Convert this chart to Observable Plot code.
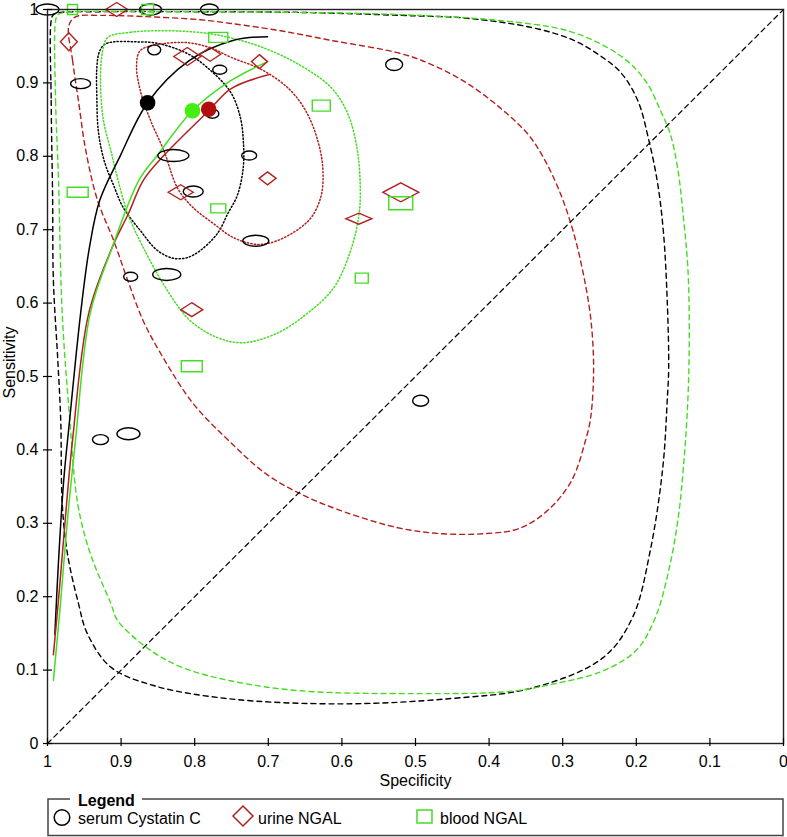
<!DOCTYPE html>
<html><head><meta charset="utf-8">
<script src="https://cdn.jsdelivr.net/npm/d3@7"></script>
<script src="https://cdn.jsdelivr.net/npm/@observablehq/plot@0.6"></script>
<style>
body{margin:0;background:#fff;font-family:"Liberation Sans",Arial,sans-serif}
#wrap{width:787px}
svg{display:block}
</style>
</head><body><div id="wrap"></div>
<script>
// ---------- tick values ----------
const xTicks = [1, 0.9, 0.8, 0.7, 0.6, 0.5, 0.4, 0.3, 0.2, 0.1, 0];
const yTicks = [0, 0.1, 0.2, 0.3, 0.4, 0.5, 0.6, 0.7, 0.8, 0.9, 1];

// ---------- serum Cystatin C studies ----------
const cysSpec = [1.000, 0.860, 0.780, 0.955, 0.855, 0.766, 0.776, 0.829, 0.726, 0.802, 0.717, 0.887, 0.838, 0.529, 0.493, 0.928, 0.890];
const cysSens = [1.000, 1.000, 1.000, 0.899, 0.945, 0.918, 0.858, 0.801, 0.801, 0.752, 0.685, 0.636, 0.639, 0.925, 0.467, 0.414, 0.422];
const cysWeightNeg = [23, 22, 18, 20, 13, 14, 13, 31, 15, 20, 26, 14, 28, 17, 16, 16, 23];
const cysWeightPos = [11, 11, 11, 10, 10, 9, 9, 12, 9, 11, 11, 9, 12, 12, 11, 10, 12];

// ---------- urine NGAL studies ----------
const uriSpec = [0.906, 0.971, 0.810, 0.779, 0.712, 0.819, 0.701, 0.804, 0.520, 0.577];
const uriSens = [1.000, 0.956, 0.936, 0.939, 0.929, 0.751, 0.770, 0.591, 0.751, 0.715];
const uriWeightNeg = [22, 17, 27, 21, 16, 25, 17, 22, 36, 26];
const uriWeightPos = [14, 18, 18, 14, 14, 15, 13, 14, 19, 11];

// ---------- blood NGAL studies ----------
const bldSpec = [0.966, 0.864, 0.768, 0.959, 0.628, 0.768, 0.520, 0.573, 0.804];
const bldSens = [1.000, 1.000, 0.962, 0.751, 0.869, 0.729, 0.736, 0.634, 0.514];
const bldWeightNeg = [10, 12, 19, 21, 18, 15, 24, 13, 21];
const bldWeightPos = [10, 10, 10, 10, 11, 9, 13, 10, 11];

// ---------- summary points (Cystatin C, urine NGAL, blood NGAL) ----------
const summarySpec = [0.864, 0.781, 0.803];
const summarySens = [0.873, 0.864, 0.862];

// ---------- SROC curves [spec, sens] ----------
const cysCurve = [[0.990,0.149],[0.985,0.249],[0.978,0.358],[0.970,0.440],[0.955,0.586],[0.943,0.676],[0.929,0.740],[0.901,0.801],[0.864,0.873],[0.808,0.930],[0.747,0.958],[0.701,0.963]];
const uriCurve = [[0.992,0.121],[0.984,0.208],[0.976,0.304],[0.966,0.413],[0.944,0.586],[0.912,0.676],[0.890,0.722],[0.870,0.767],[0.842,0.801],[0.781,0.862],[0.751,0.892],[0.700,0.911]];
const bldCurve = [[0.992,0.086],[0.982,0.195],[0.973,0.304],[0.962,0.413],[0.942,0.586],[0.912,0.676],[0.876,0.767],[0.851,0.801],[0.803,0.862],[0.751,0.903],[0.701,0.929]];

// ---------- 95% confidence regions (dotted) ----------
const cysConf = [[0.923,0.952],[0.910,0.956],[0.883,0.956],[0.851,0.954],[0.810,0.940],[0.783,0.921],[0.751,0.887],[0.738,0.853],[0.734,0.822],[0.734,0.785],[0.742,0.747],[0.755,0.722],[0.769,0.695],[0.792,0.672],[0.810,0.662],[0.829,0.661],[0.851,0.672],[0.874,0.699],[0.897,0.730],[0.910,0.760],[0.923,0.794],[0.931,0.835],[0.933,0.883],[0.933,0.920],[0.930,0.941]];
const uriConf = [[0.874,0.944],[0.851,0.952],[0.813,0.955],[0.779,0.948],[0.751,0.935],[0.707,0.917],[0.670,0.890],[0.647,0.858],[0.633,0.822],[0.626,0.785],[0.628,0.747],[0.640,0.719],[0.656,0.703],[0.688,0.685],[0.715,0.680],[0.747,0.689],[0.774,0.708],[0.802,0.730],[0.823,0.756],[0.842,0.808],[0.860,0.849],[0.874,0.890],[0.879,0.924]];
const bldConf = [[0.918,0.962],[0.887,0.969],[0.833,0.971],[0.779,0.967],[0.738,0.958],[0.707,0.948],[0.660,0.926],[0.615,0.894],[0.592,0.858],[0.579,0.808],[0.575,0.753],[0.577,0.719],[0.588,0.672],[0.611,0.621],[0.647,0.586],[0.688,0.559],[0.734,0.546],[0.769,0.553],[0.806,0.576],[0.837,0.617],[0.870,0.676],[0.891,0.722],[0.904,0.767],[0.914,0.808],[0.924,0.849],[0.928,0.903],[0.925,0.944]];

// ---------- 95% prediction regions (dashed) ----------
const cysPred = [[0.995,0.985],[0.995,0.876],[0.993,0.740],[0.992,0.631],[0.986,0.522],[0.982,0.440],[0.980,0.327],[0.973,0.259],[0.958,0.191],[0.946,0.150],[0.914,0.104],[0.856,0.079],[0.754,0.061],[0.602,0.054],[0.455,0.061],[0.340,0.076],[0.245,0.117],[0.205,0.172],[0.181,0.263],[0.164,0.376],[0.158,0.467],[0.156,0.512],[0.158,0.604],[0.163,0.695],[0.171,0.763],[0.183,0.822],[0.198,0.876],[0.221,0.914],[0.249,0.937],[0.285,0.958],[0.340,0.975],[0.429,0.988],[0.520,0.992],[0.656,0.996],[0.792,0.997],[0.928,0.997],[0.982,0.996],[0.992,0.993]];
const uriPred = [[0.971,0.978],[0.966,0.931],[0.958,0.876],[0.948,0.808],[0.932,0.740],[0.910,0.685],[0.891,0.631],[0.870,0.576],[0.846,0.531],[0.802,0.463],[0.754,0.413],[0.704,0.368],[0.652,0.338],[0.595,0.315],[0.524,0.294],[0.467,0.286],[0.404,0.286],[0.359,0.293],[0.321,0.317],[0.288,0.358],[0.269,0.413],[0.262,0.444],[0.258,0.512],[0.262,0.580],[0.272,0.640],[0.285,0.695],[0.303,0.749],[0.326,0.798],[0.348,0.831],[0.385,0.866],[0.429,0.899],[0.476,0.924],[0.520,0.940],[0.615,0.958],[0.683,0.971],[0.751,0.981],[0.792,0.986],[0.860,0.990],[0.928,0.992],[0.962,0.990]];
const bldPred = [[0.989,0.985],[0.989,0.876],[0.985,0.767],[0.980,0.586],[0.970,0.445],[0.959,0.327],[0.942,0.259],[0.914,0.191],[0.905,0.168],[0.863,0.129],[0.818,0.104],[0.754,0.086],[0.659,0.072],[0.499,0.068],[0.372,0.071],[0.308,0.082],[0.245,0.099],[0.200,0.127],[0.174,0.172],[0.155,0.240],[0.143,0.308],[0.136,0.376],[0.130,0.467],[0.128,0.559],[0.130,0.649],[0.136,0.717],[0.144,0.785],[0.154,0.831],[0.167,0.862],[0.185,0.899],[0.208,0.926],[0.239,0.948],[0.293,0.971],[0.385,0.985],[0.520,0.993],[0.656,0.996],[0.860,0.997],[0.976,0.996],[0.986,0.993]];

// ---------- chance line ----------
const diagSpec = [1, 0];
const diagSens = [0, 1];

// ---------- colours ----------
const BLACK = "#000000", RED = "#b3201f", GREEN = "#44dd22";
const RED_FILL = "#b30d0d", GREEN_FILL = "#44ee11";

// ---------- custom symbols (sized by study weights) ----------
function ellipseSym(rx, ry) {
  const k = 0.5523;
  return {draw(c) {
    c.moveTo(rx, 0);
    c.bezierCurveTo(rx, k*ry, k*rx, ry, 0, ry);
    c.bezierCurveTo(-k*rx, ry, -rx, k*ry, -rx, 0);
    c.bezierCurveTo(-rx, -k*ry, -k*rx, -ry, 0, -ry);
    c.bezierCurveTo(k*rx, -ry, rx, -k*ry, rx, 0);
    c.closePath();
  }};
}
function diamondSym(rx, ry) {
  return {draw(c) { c.moveTo(0, -ry); c.lineTo(rx, 0); c.lineTo(0, ry); c.lineTo(-rx, 0); c.closePath(); }};
}
function rectSym(rx, ry) {
  return {draw(c) { c.moveTo(-rx, -ry); c.lineTo(rx, -ry); c.lineTo(rx, ry); c.lineTo(-rx, ry); c.closePath(); }};
}

const toRows = (spec, sens, wn, wp) => spec.map((s, i) => ({spec: s, sens: sens[i], wn: wn[i], wp: wp[i]}));
const cysRows = toRows(cysSpec, cysSens, cysWeightNeg, cysWeightPos);
const uriRows = toRows(uriSpec, uriSens, uriWeightNeg, uriWeightPos);
const bldRows = toRows(bldSpec, bldSens, bldWeightNeg, bldWeightPos);
const summaryRows = summarySpec.map((s, i) => ({spec: s, sens: summarySens[i], k: i}));
const summaryFill = [BLACK, RED_FILL, GREEN_FILL];

const fmt = d3.format("~g");
const DASH = "5,4", DOT = "1.3,2.2";
const P = d => d[0], Q = d => d[1];

const W = 787, H = 792, mL = 47, mR = 4, mT = 9, mB = 49;

const chart = Plot.plot({
  width: W, height: H,
  marginLeft: mL, marginRight: mR, marginTop: mT, marginBottom: mB,
  x: {domain: [1, 0]},
  y: {domain: [0, 1]},
  style: {fontFamily: "'Liberation Sans', Arial, sans-serif", fontSize: "16px", color: "#000", background: "#fff"},
  marks: [
    // prediction regions
    Plot.line(cysPred, {x: P, y: Q, curve: "catmull-rom-closed", stroke: BLACK, strokeWidth: 1.4, strokeDasharray: DASH}),
    Plot.line(bldPred, {x: P, y: Q, curve: "catmull-rom-closed", stroke: GREEN, strokeWidth: 1.4, strokeDasharray: DASH}),
    Plot.line(uriPred, {x: P, y: Q, curve: "catmull-rom-closed", stroke: RED, strokeWidth: 1.4, strokeDasharray: DASH}),
    // confidence regions
    Plot.line(cysConf, {x: P, y: Q, curve: "catmull-rom-closed", stroke: BLACK, strokeWidth: 1.5, strokeDasharray: DOT}),
    Plot.line(uriConf, {x: P, y: Q, curve: "catmull-rom-closed", stroke: RED, strokeWidth: 1.5, strokeDasharray: DOT}),
    Plot.line(bldConf, {x: P, y: Q, curve: "catmull-rom-closed", stroke: GREEN, strokeWidth: 1.5, strokeDasharray: DOT}),
    // chance diagonal
    Plot.line(diagSpec, {x: diagSpec, y: diagSens, stroke: BLACK, strokeWidth: 1.2, strokeDasharray: DASH}),
    // SROC curves
    Plot.line(cysCurve, {x: P, y: Q, curve: "catmull-rom", stroke: BLACK, strokeWidth: 1.5}),
    Plot.line(uriCurve, {x: P, y: Q, curve: "catmull-rom", stroke: RED, strokeWidth: 1.5}),
    Plot.line(bldCurve, {x: P, y: Q, curve: "catmull-rom", stroke: GREEN, strokeWidth: 1.5}),
    // study estimates
    Plot.dot(cysRows, {x: "spec", y: "sens", symbol: d => ellipseSym(d.wn / 2, d.wp / 2), stroke: BLACK, fill: "none", strokeWidth: 1.4}),
    Plot.dot(uriRows, {x: "spec", y: "sens", symbol: d => diamondSym(d.wn / 2, d.wp / 2), stroke: RED, fill: "none", strokeWidth: 1.4}),
    Plot.dot(bldRows, {x: "spec", y: "sens", symbol: d => rectSym(d.wn / 2, d.wp / 2), stroke: GREEN, fill: "none", strokeWidth: 1.4}),
    // summary points
    Plot.dot(summaryRows, {x: "spec", y: "sens", r: 7.8, fill: d => summaryFill[d.k], stroke: "none"}),
    // frame & ticks
    Plot.frame({stroke: "#222", strokeWidth: 1.4}),
    Plot.tickX(xTicks, {x: d => d, insetTop: (H - mT - mB) - 5, insetBottom: -3, stroke: "#000", strokeWidth: 1.2}),
    Plot.tickY(yTicks, {y: d => d, insetRight: (W - mL - mR) - 5, insetLeft: -4, stroke: "#000", strokeWidth: 1.2}),
    Plot.axisX({ticks: xTicks, tickSize: 0, tickPadding: 12, tickFormat: fmt, label: null, fontSize: 16}),
    Plot.axisY({ticks: yTicks, tickSize: 0, tickPadding: 9, tickFormat: fmt, label: null, fontSize: 16}),
    // axis titles
    Plot.text(["Specificity"], {text: d => d, frameAnchor: "bottom", lineAnchor: "middle", textAnchor: "middle", dy: 37, fontSize: 16}),
    Plot.text(["Sensitivity"], {text: d => d, frameAnchor: "left", lineAnchor: "middle", textAnchor: "middle", rotate: -90, dx: -38, dy: -14, fontSize: 16})
  ]
});
document.getElementById("wrap").appendChild(chart);

// ---------- legend (below the chart) ----------
const legendItems = [
  {label: "serum Cystatin C", kind: "circle", color: BLACK},
  {label: "urine NGAL", kind: "diamond", color: RED},
  {label: "blood NGAL", kind: "square", color: GREEN}
];
const legendX = [78, 258, 440];
const ns = "http://www.w3.org/2000/svg";
const lg = d3.create("svg").attr("xmlns", ns).attr("width", W).attr("height", 45)
  .style("font-family", "'Liberation Sans', Arial, sans-serif");
lg.append("rect").attr("x", 48).attr("y", 7).attr("width", 735).attr("height", 36.5)
  .attr("fill", "none").attr("stroke", "#444").attr("stroke-width", 1.5);
lg.append("rect").attr("x", 70).attr("y", 0).attr("width", 72).attr("height", 12).attr("fill", "#fff");
lg.append("text").attr("x", 78).attr("y", 14).attr("font-size", 16).attr("font-weight", "bold").text("Legend");
legendItems.forEach((it, i) => {
  const tx = legendX[i];
  if (it.kind === "circle") {
    lg.append("circle").attr("cx", tx - 16).attr("cy", 25.5).attr("r", 7.8)
      .attr("fill", "none").attr("stroke", it.color).attr("stroke-width", 1.5);
  } else if (it.kind === "diamond") {
    const cx = tx - 15, cy = 24;
    lg.append("path").attr("d", `M${cx},${cy-10}L${cx+10},${cy}L${cx},${cy+10}L${cx-10},${cy}Z`)
      .attr("fill", "none").attr("stroke", it.color).attr("stroke-width", 1.5);
  } else {
    lg.append("rect").attr("x", tx - 23).attr("y", 18).attr("width", 15).attr("height", 13)
      .attr("fill", "none").attr("stroke", it.color).attr("stroke-width", 1.5);
  }
  lg.append("text").attr("x", tx).attr("y", 32).attr("font-size", 16).text(it.label);
});
document.getElementById("wrap").appendChild(lg.node());
</script>
</body></html>
